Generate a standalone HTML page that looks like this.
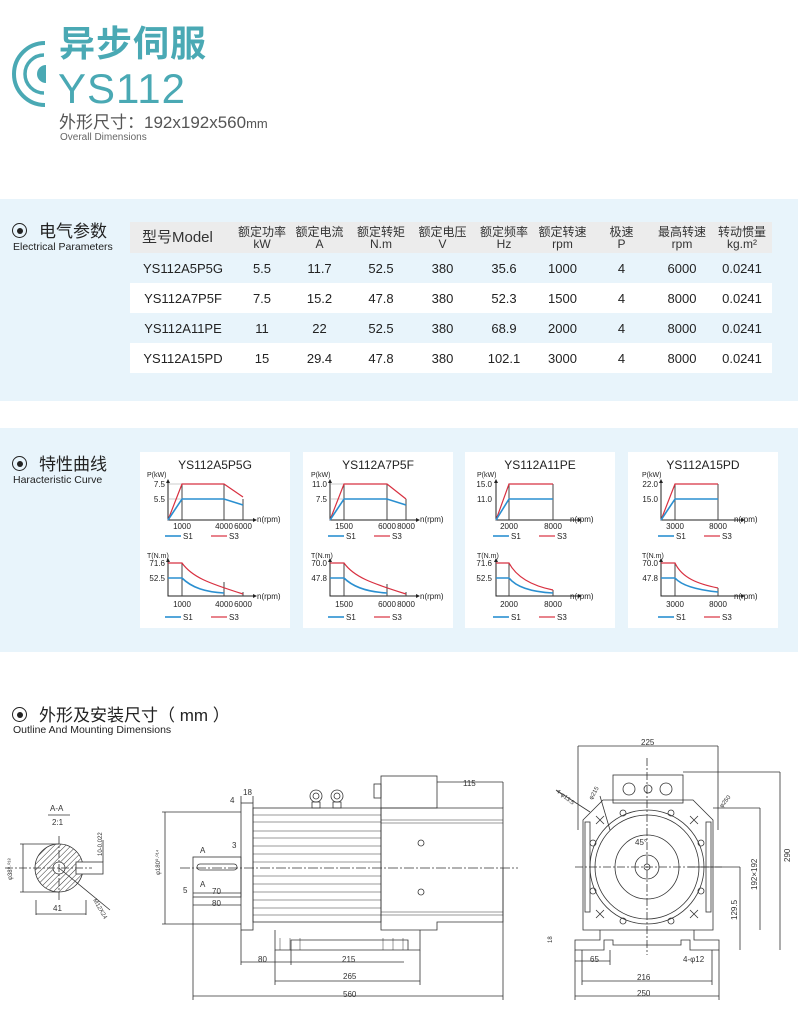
<!DOCTYPE html>
<html><head><meta charset="utf-8"><style>
*{margin:0;padding:0}
body{width:798px;height:1017px;background:#fff;position:relative;overflow:hidden;font-family:"Liberation Sans","Noto Sans CJK SC",sans-serif;color:#222}
.a{position:absolute;white-space:nowrap;line-height:1}
.band{position:absolute;left:0;width:798px;background:#e8f4fb}
.tbl{position:absolute;left:130px;top:222px;width:642px;border-collapse:collapse;font-size:13px;table-layout:fixed}
.tbl td{text-align:center;height:30px;padding:0;white-space:nowrap}
.tbl tr.h td{background:#ececec;font-size:12px;line-height:12px;height:31px;color:#333}
.tbl tr.w td{background:#fff}
.sec{font-size:17px;color:#222}
.sub{font-size:10.5px;color:#222}
.dot{display:inline-block;width:13px;height:13px;border:1.5px solid #222;border-radius:50%;position:relative;vertical-align:-1px;margin-right:12px}
.dot:after{content:"";position:absolute;left:3.5px;top:3.5px;width:6px;height:6px;background:#222;border-radius:50%}
.box{position:absolute;top:452px;width:150px;height:176px;background:#fff}
svg text{font-family:"Liberation Sans","Noto Sans CJK SC",sans-serif}
</style></head><body>
<svg class="a" style="left:10px;top:35px" width="50" height="75"><path d="M35 8 A30 30 0 0 0 35 70" fill="none" stroke="#4aa9b4" stroke-width="4"/><path d="M34 20 A19 19 0 0 0 34 58" fill="none" stroke="#4aa9b4" stroke-width="3.5"/><path d="M36 30 A9 9 0 0 0 36 48 Z" fill="#4aa9b4"/></svg>
<div class="a" style="left:59px;top:26px;font-size:36px;color:#4aa9b4;font-weight:bold;letter-spacing:1px">异步伺服</div>
<div class="a" style="left:58px;top:68px;font-size:42px;color:#4aa9b4;letter-spacing:1px">YS112</div>
<div class="a" style="left:59px;top:114px;font-size:17px;color:#555">外形尺寸：192x192x560<span style="font-size:13px">mm</span></div>
<div class="a" style="left:60px;top:133px;font-size:10px;color:#666">Overall Dimensions</div>

<div class="band" style="top:199px;height:202px"></div>
<div class="band" style="top:428px;height:224px"></div>

<div class="a sec" style="left:12px;top:223px"><span class="dot"></span>电气参数</div>
<div class="a sub" style="left:13px;top:242px">Electrical Parameters</div>
<table class="tbl">
<colgroup><col style="width:106px"><col style="width:52px"><col style="width:63px"><col style="width:60px"><col style="width:63px"><col style="width:60px"><col style="width:57px"><col style="width:61px"><col style="width:60px"><col style="width:60px"></colgroup>
<tr class="h"><td style="font-size:15px;text-align:left;padding-left:12px">型号Model</td><td>额定功率<br>kW</td><td>额定电流<br>A</td><td>额定转矩<br>N.m</td><td>额定电压<br>V</td><td>额定频率<br>Hz</td><td>额定转速<br>rpm</td><td>极速<br>P</td><td>最高转速<br>rpm</td><td>转动惯量<br>kg.m²</td></tr>
<tr><td>YS112A5P5G</td><td>5.5</td><td>11.7</td><td>52.5</td><td>380</td><td>35.6</td><td>1000</td><td>4</td><td>6000</td><td>0.0241</td></tr>
<tr class="w"><td>YS112A7P5F</td><td>7.5</td><td>15.2</td><td>47.8</td><td>380</td><td>52.3</td><td>1500</td><td>4</td><td>8000</td><td>0.0241</td></tr>
<tr><td>YS112A11PE</td><td>11</td><td>22</td><td>52.5</td><td>380</td><td>68.9</td><td>2000</td><td>4</td><td>8000</td><td>0.0241</td></tr>
<tr class="w"><td>YS112A15PD</td><td>15</td><td>29.4</td><td>47.8</td><td>380</td><td>102.1</td><td>3000</td><td>4</td><td>8000</td><td>0.0241</td></tr>
</table>

<div class="a sec" style="left:12px;top:456px"><span class="dot"></span>特性曲线</div>
<div class="a sub" style="left:13px;top:475px">Haracteristic Curve</div>

<div class="box" style="left:140px"></div><div class="box" style="left:303px"></div><div class="box" style="left:465px"></div><div class="box" style="left:628px"></div>

<svg class="a" style="left:0;top:452px" width="798" height="176" font-size="8">
<defs><g id="leg"><line x1="0" y1="0" x2="16" y2="0" stroke="#2a8fd0" stroke-width="1.6"/><text x="18" y="3">S1</text><line x1="46" y1="0" x2="62" y2="0" stroke="#d83040" stroke-width="1.2"/><text x="64" y="3">S3</text></g></defs>
<g transform="translate(140,0)" fill="#222">
<text x="75" y="17" font-size="12" text-anchor="middle">YS112A5P5G</text>
<text x="7" y="25" font-size="7">P(kW)</text>
<path d="M28 30V68H115" fill="none" stroke="#222"/><path d="M113 66L117 68L113 70Z"/><path d="M26 31L28 27L30 31Z"/>
<line x1="28" y1="32" x2="84" y2="32" stroke="#999" stroke-width=".5"/><line x1="28" y1="47" x2="42" y2="47" stroke="#999" stroke-width=".5"/>
<path d="M42 32V68M84 32V68M103 47V68" stroke="#444" fill="none"/>
<path d="M28 68L42 32H84L103 45" stroke="#d83040" fill="none" stroke-width="1.2"/>
<path d="M28 68L42 47H84L103 53" stroke="#2a8fd0" fill="none" stroke-width="1.6"/>
<text x="25" y="35" text-anchor="end">7.5</text><text x="25" y="50" text-anchor="end">5.5</text>
<text x="42" y="77" text-anchor="middle">1000</text><text x="84" y="77" text-anchor="middle">4000</text><text x="103" y="77" text-anchor="middle">6000</text><text x="117" y="70">n(rpm)</text>
<use href="#leg" x="25" y="84"/>
<text x="7" y="106" font-size="7">T(N.m)</text>
<path d="M28 109V144H115" fill="none" stroke="#222"/><path d="M113 142L117 144L113 146Z"/><path d="M26 110L28 106L30 110Z"/>
<path d="M42 111V144M84 130V144M103 140V144" stroke="#444" fill="none"/>
<path d="M28 111H42C52 125 68 131 103 142" stroke="#d83040" fill="none" stroke-width="1.2"/>
<path d="M28 126H42C52 136 66 140 84 141" stroke="#2a8fd0" fill="none" stroke-width="1.6"/>
<text x="25" y="114" text-anchor="end">71.6</text><text x="25" y="129" text-anchor="end">52.5</text>
<text x="42" y="155" text-anchor="middle">1000</text><text x="84" y="155" text-anchor="middle">4000</text><text x="103" y="155" text-anchor="middle">6000</text><text x="117" y="147">n(rpm)</text>
<use href="#leg" x="25" y="165"/>
</g>
<g transform="translate(303,0)" fill="#222">
<text x="75" y="17" font-size="12" text-anchor="middle">YS112A7P5F</text>
<text x="8" y="25" font-size="7">P(kW)</text>
<path d="M27 30V68H115" fill="none" stroke="#222"/><path d="M113 66L117 68L113 70Z"/><path d="M25 31L27 27L29 31Z"/>
<line x1="27" y1="32" x2="84" y2="32" stroke="#999" stroke-width=".5"/><line x1="27" y1="47" x2="41" y2="47" stroke="#999" stroke-width=".5"/>
<path d="M41 32V68M84 32V68M103 47V68" stroke="#444" fill="none"/>
<path d="M27 68L41 32H84L103 47" stroke="#d83040" fill="none" stroke-width="1.2"/>
<path d="M27 68L41 47H84L103 53" stroke="#2a8fd0" fill="none" stroke-width="1.6"/>
<text x="24" y="35" text-anchor="end">11.0</text><text x="24" y="50" text-anchor="end">7.5</text>
<text x="41" y="77" text-anchor="middle">1500</text><text x="84" y="77" text-anchor="middle">6000</text><text x="103" y="77" text-anchor="middle">8000</text><text x="117" y="70">n(rpm)</text>
<use href="#leg" x="25" y="84"/>
<text x="8" y="106" font-size="7">T(N.m)</text>
<path d="M27 109V144H115" fill="none" stroke="#222"/><path d="M113 142L117 144L113 146Z"/><path d="M25 110L27 106L29 110Z"/>
<path d="M41 111V144M84 132V144M103 140V144" stroke="#444" fill="none"/>
<path d="M27 111H41C51 125 68 131 103 142" stroke="#d83040" fill="none" stroke-width="1.2"/>
<path d="M27 126H41C51 136 66 140 84 141" stroke="#2a8fd0" fill="none" stroke-width="1.6"/>
<text x="24" y="114" text-anchor="end">70.0</text><text x="24" y="129" text-anchor="end">47.8</text>
<text x="41" y="155" text-anchor="middle">1500</text><text x="84" y="155" text-anchor="middle">6000</text><text x="103" y="155" text-anchor="middle">8000</text><text x="117" y="147">n(rpm)</text>
<use href="#leg" x="25" y="165"/>
</g>
<g transform="translate(465,0)" fill="#222">
<text x="75" y="17" font-size="12" text-anchor="middle">YS112A11PE</text>
<text x="12" y="25" font-size="7">P(kW)</text>
<path d="M31 30V68H115" fill="none" stroke="#222"/><path d="M113 66L117 68L113 70Z"/><path d="M29 31L31 27L33 31Z"/>
<path d="M44 32V68M88 32V68" stroke="#444" fill="none"/>
<path d="M31 68L44 32H88" stroke="#d83040" fill="none" stroke-width="1.2"/>
<path d="M31 68L44 47H88" stroke="#2a8fd0" fill="none" stroke-width="1.6"/>
<text x="27" y="35" text-anchor="end">15.0</text><text x="27" y="50" text-anchor="end">11.0</text>
<text x="44" y="77" text-anchor="middle">2000</text><text x="88" y="77" text-anchor="middle">8000</text><text x="105" y="70">n(rpm)</text>
<use href="#leg" x="28" y="84"/>
<text x="12" y="106" font-size="7">T(N.m)</text>
<path d="M31 109V144H115" fill="none" stroke="#222"/><path d="M113 142L117 144L113 146Z"/><path d="M29 110L31 106L33 110Z"/>
<path d="M44 111V144M88 138V144" stroke="#444" fill="none"/>
<path d="M31 111H44C52 126 68 134 88 138" stroke="#d83040" fill="none" stroke-width="1.2"/>
<path d="M31 126H44C52 136 68 140 88 141" stroke="#2a8fd0" fill="none" stroke-width="1.6"/>
<text x="27" y="114" text-anchor="end">71.6</text><text x="27" y="129" text-anchor="end">52.5</text>
<text x="44" y="155" text-anchor="middle">2000</text><text x="88" y="155" text-anchor="middle">8000</text><text x="105" y="147">n(rpm)</text>
<use href="#leg" x="28" y="165"/>
</g>
<g transform="translate(628,0)" fill="#222">
<text x="75" y="17" font-size="12" text-anchor="middle">YS112A15PD</text>
<text x="14" y="25" font-size="7">P(kW)</text>
<path d="M33 30V68H115" fill="none" stroke="#222"/><path d="M113 66L117 68L113 70Z"/><path d="M31 31L33 27L35 31Z"/>
<path d="M47 32V68M90 32V68" stroke="#444" fill="none"/>
<path d="M33 68L47 32H90" stroke="#d83040" fill="none" stroke-width="1.2"/>
<path d="M33 68L47 47H90" stroke="#2a8fd0" fill="none" stroke-width="1.6"/>
<text x="30" y="35" text-anchor="end">22.0</text><text x="30" y="50" text-anchor="end">15.0</text>
<text x="47" y="77" text-anchor="middle">3000</text><text x="90" y="77" text-anchor="middle">8000</text><text x="106" y="70">n(rpm)</text>
<use href="#leg" x="30" y="84"/>
<text x="14" y="106" font-size="7">T(N.m)</text>
<path d="M33 109V144H115" fill="none" stroke="#222"/><path d="M113 142L117 144L113 146Z"/><path d="M31 110L33 106L35 110Z"/>
<path d="M47 111V144M90 136V144" stroke="#444" fill="none"/>
<path d="M33 111H47C54 126 70 132 90 136" stroke="#d83040" fill="none" stroke-width="1.2"/>
<path d="M33 126H47C54 134 70 138 90 140" stroke="#2a8fd0" fill="none" stroke-width="1.6"/>
<text x="30" y="114" text-anchor="end">70.0</text><text x="30" y="129" text-anchor="end">47.8</text>
<text x="47" y="155" text-anchor="middle">3000</text><text x="90" y="155" text-anchor="middle">8000</text><text x="106" y="147">n(rpm)</text>
<use href="#leg" x="30" y="165"/>
</g>
</svg>

<div class="a sec" style="left:12px;top:707px"><span class="dot"></span>外形及安装尺寸（ mm ）</div>
<div class="a sub" style="left:13px;top:725px">Outline And Mounting Dimensions</div>

<svg class="a" style="left:0;top:0" width="798" height="1017" font-size="8" fill="none" stroke="#333" stroke-width=".8">
<defs><pattern id="h" width="4" height="4" patternUnits="userSpaceOnUse" patternTransform="rotate(45)"><line x1="0" y1="0" x2="0" y2="4" stroke="#333" stroke-width="1"/></pattern></defs>
<g>
<text x="50" y="811" fill="#333" stroke="none">A-A</text><line x1="48" y1="815" x2="70" y2="815"/><text x="52" y="825" fill="#333" stroke="none">2:1</text>
<circle cx="59" cy="868" r="24" fill="url(#h)"/><circle cx="59" cy="868" r="6" fill="#fff"/>
<rect x="76" y="862" width="27" height="12" fill="#fff"/>
<path d="M5 868H92" stroke-dasharray="8 2 2 2"/><path d="M59 836V900" stroke-dasharray="8 2 2 2"/>
<path d="M20 844H59M20 892H59M23 844V892M36 900V915M86 900V915M36 914H86M103 862V840M59 868L110 910"/>
<text x="53" y="911" fill="#333" stroke="none">41</text>
<text x="12" y="880" fill="#333" stroke="none" font-size="6" transform="rotate(-90 12 880)">φ38⁰·⁰¹⁸</text>
<text x="102" y="856" fill="#333" stroke="none" font-size="6" transform="rotate(-90 102 856)">10-0.022</text>
<text x="93" y="900" fill="#333" stroke="none" font-size="6" transform="rotate(60 93 900)">M12X24</text>
</g>
<g>
<rect x="241" y="803" width="12" height="127"/>
<rect x="253" y="808" width="128" height="114"/>
<path d="M253 815H381M253 822H381M253 831H381M253 838H381M253 846H381M253 854H381M253 862H381M253 876H381M253 884H381M253 892H381M253 900H381M253 908H381M253 915H381" stroke-width=".5"/>
<path d="M381 808H503V922H437V930H381Z"/>
<path d="M381 820H503M381 823H503M381 912H503M381 915H503" stroke-width=".5"/>
<rect x="381" y="776" width="56" height="32"/><rect x="374" y="784" width="7" height="14"/>
<circle cx="316" cy="796" r="6"/><circle cx="316" cy="796" r="3"/><circle cx="337" cy="796" r="6"/><circle cx="337" cy="796" r="3"/>
<path d="M312 802H320V808H312ZM333 802H341V808H333Z"/>
<path d="M275 930V950H420V930M291 940H408V950H291Z"/>
<path d="M280 938V950M290 938V950M300 938V950M383 938V950M393 938V950M403 938V950" stroke-width=".5"/>
<rect x="193" y="857" width="48" height="40"/><rect x="197" y="864" width="40" height="6" rx="3"/>
<circle cx="421" cy="843" r="3"/><circle cx="421" cy="892" r="3"/>
<path d="M180 868H518" stroke-dasharray="10 2 2 2"/>
<path d="M162 812H241M162 924H241M165 812V924M193 897V1000M503 868V1000M193 996H503M275 950V985M420 950V985M275 981H420M241 930V965M291 950V965M241 962H404M437 782H503M503 782V808M193 905H241M193 893H241M241 796V803M253 796V803"/>
<g fill="#333" stroke="none">
<text x="343" y="997">560</text><text x="343" y="979">265</text><text x="342" y="962">215</text><text x="258" y="962">80</text><text x="463" y="786">115</text>
<text x="243" y="795">18</text><text x="230" y="803">4</text><text x="232" y="848">3</text><text x="200" y="853">A</text><text x="200" y="887">A</text>
<text x="212" y="894">70</text><text x="212" y="906">80</text><text x="183" y="893">5</text>
<text x="160" y="875" font-size="6" transform="rotate(-90 160 875)">φ180⁰·⁰¹⁴</text>
</g>
</g>
<g>
<path d="M603 800H693L713 820V930H583V820Z"/>
<rect x="585" y="822" width="5" height="90"/><rect x="706" y="822" width="5" height="90"/>
<rect x="613" y="775" width="70" height="28"/>
<circle cx="629" cy="789" r="6"/><circle cx="648" cy="789" r="4"/><circle cx="666" cy="789" r="6"/>
<circle cx="647" cy="867" r="57"/><circle cx="647" cy="867" r="52"/><circle cx="647" cy="867" r="32"/><circle cx="647" cy="867" r="12"/><circle cx="647" cy="867" r="3"/>
<circle cx="623" cy="813" r="3"/><circle cx="671" cy="813" r="3"/><circle cx="623" cy="921" r="3"/><circle cx="671" cy="921" r="3"/>
<circle cx="593" cy="843" r="3"/><circle cx="701" cy="843" r="3"/><circle cx="593" cy="891" r="3"/><circle cx="701" cy="891" r="3"/>
<path d="M596 816l8 8m0-8l-8 8M690 816l8 8m0-8l-8 8M596 910l8 8m0-8l-8 8M690 910l8 8m0-8l-8 8"/>
<path d="M600 930V940H575V950H604V940H613V945H681V940H690V950H719V940H694V930"/>
<path d="M575 867H722M647 758V955" stroke-dasharray="8 2 2 2"/>
<path d="M578 746H718M578 746V830M718 746V830M683 772H780M780 772V950M713 808H760M760 808V930M688 867H740M740 867V950M575 950V1000M719 950V1000M575 996H719M582 950V985M712 950V985M582 981H712M610 950V965M575 961H610M556 790L590 812M600 796L610 830"/>
<g fill="#333" stroke="none">
<text x="641" y="745">225</text><text x="637" y="996">250</text><text x="637" y="980">216</text><text x="590" y="962">65</text><text x="683" y="962">4-φ12</text><text x="635" y="845">45°</text>
<text x="552" y="943" font-size="6" transform="rotate(-90 552 943)">18</text>
<text x="790" y="862" transform="rotate(-90 790 862)">290</text>
<text x="757" y="890" transform="rotate(-90 757 890)">192×192</text>
<text x="737" y="920" transform="rotate(-90 737 920)">129.5</text>
<text x="556" y="792" font-size="6" transform="rotate(38 556 792)">4-φ13.5</text>
<text x="592" y="800" font-size="6" transform="rotate(-60 592 800)">φ215</text>
<text x="722" y="808" font-size="6" transform="rotate(-50 722 808)">φ250</text>
</g>
</g>
</svg>
</body></html>
